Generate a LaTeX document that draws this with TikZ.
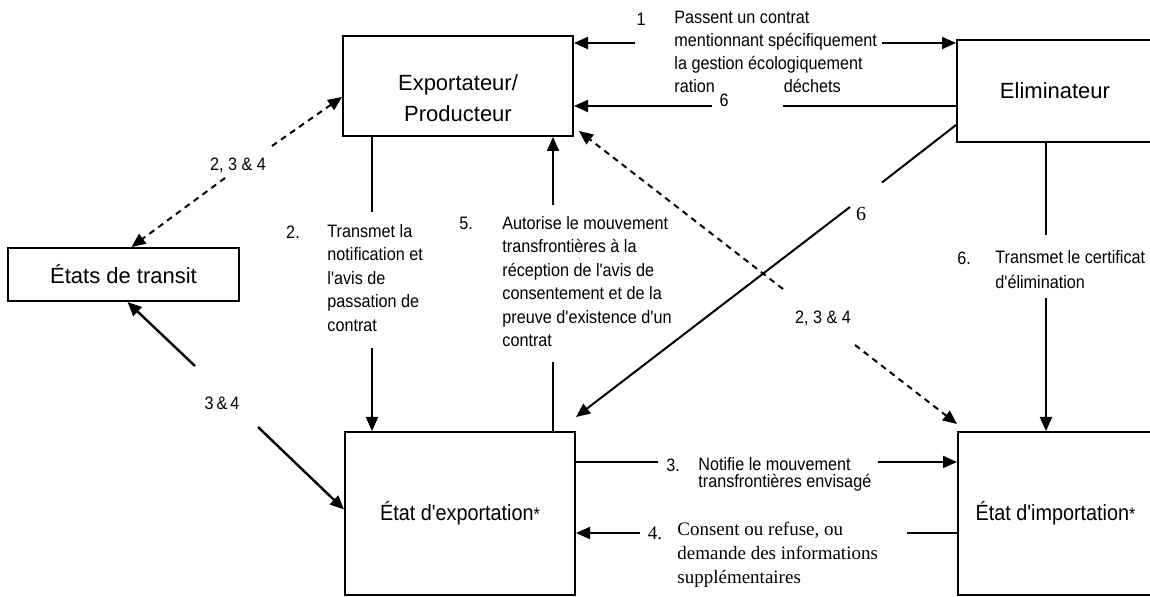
\documentclass[tikz,border=0pt]{standalone}
\usepackage{fontspec}
\setmainfont{Liberation Sans}[Ligatures=TeXOff]
\newfontfamily\narrowfont{Liberation Sans}[FakeStretch=0.9,Ligatures=TeXOff]
\newfontfamily\seriffont{Liberation Serif}
\usetikzlibrary{arrows.meta,positioning}

\begin{document}
\begin{tikzpicture}[x=0.5pt,y=-0.5pt,
	box/.style={draw,line width=1pt,inner sep=0pt,font=\fontsize{11}{15.5}\selectfont},
	note/.style={inner sep=0pt,anchor=north west,align=left,font=\narrowfont\fontsize{9}{11.75}\selectfont},
	num/.style={inner sep=0pt,font=\narrowfont\fontsize{9}{11}\selectfont},
	plain/.style={line width=1pt},
	link/.style={line width=1pt,-{Triangle[length=7pt,width=6pt]}},
	dashlink/.style={line width=1pt,dash pattern=on 3pt off 2.5pt,-{Triangle[length=7pt,width=6pt]}}]
	%% frame of the picture
	\useasboundingbox (0,0) rectangle (1150,597);
	
	%% the actors
	\node[box,minimum width=115pt,minimum height=50pt] (prod) at (458,86) {};
	\node[box,draw=none,align=center] (prodlbl) at (458,98) {Exportateur/\\Producteur};
	\node[box,minimum width=98pt,minimum height=51pt] (elim) at (1055,91) {Eliminateur};
	\node[box,minimum width=115.5pt,minimum height=26.5pt] (transit) at (123.5,274.5) {États de transit};
	\node[box,font=\narrowfont\fontsize{11}{13}\selectfont,minimum width=115pt,minimum height=81.5pt] (exp) at (460,513.5) {État d'exportation{\fontsize{9}{9}\selectfont*}};
	\node[box,font=\narrowfont\fontsize{11}{13}\selectfont,minimum width=97.5pt,minimum height=81.5pt] (imp) at (1055.5,513.5) {État d'importation{\fontsize{9}{9}\selectfont*}};
	
	%% texts
	\node[num] (n1) at (641,19) {1};
	\node[note,font=\narrowfont\fontsize{9}{11.5}\selectfont] (t1) at (674,11) {Passent un contrat\\mentionnant spécifiquement\\la gestion écologiquement\\ration\hspace{34.5pt}déchets};
	\node[num] (n6top) at (724,100) {6};
	\node[num] (l234a) at (238,165) {2, 3 \& 4};
	\node[num] (l234b) at (823,318) {2, 3 \& 4};
	\node[num] (l34) at (222,403) {3\,\&\,4};
	\node[num] (n2) at (293,232) {2.};
	\node[note] (t2) at (327,224) {Transmet la\\notification et\\l'avis de\\passation de\\contrat};
	\node[num] (n5) at (466,223) {5.};
	\node[note] (t5) at (502,216) {Autorise le mouvement\\transfrontières à la\\réception de l'avis de\\consentement et de la\\preuve d'existence d'un\\contrat};
	\node[num] (n6) at (964,258) {6.};
	\node[note,font=\narrowfont\fontsize{9}{12.5}\selectfont] (t6) at (995,250) {Transmet le certificat\\d'élimination};
	\node[num] (n3) at (673,465) {3.};
	\node[note,font=\narrowfont\fontsize{9}{8.5}\selectfont] (t3) at (698,457) {Notifie le mouvement\\transfrontières envisagé};
	\node[num,font=\seriffont\fontsize{9.5}{12}\selectfont] (n4) at (655,533) {4.};
	\node[note,font=\seriffont\fontsize{9.5}{12}\selectfont] (t4) at (677,522) {Consent ou refuse, ou\\demande des informations\\supplémentaires};
	\node[font=\seriffont\fontsize{10}{12}\selectfont,inner sep=0pt] (n6diag) at (861,214) {6};
	
	%% ends of the broken lines
	\coordinate (g1a) at (635,43);
	\coordinate (g1b) at (882,43);
	\coordinate (g6a) at (783,106);
	\coordinate (g6b) at (712,106);
	\coordinate (gla) at (272,146);
	\coordinate (glb) at (225,178);
	\coordinate (gra) at (783,289);
	\coordinate (grb) at (855,345);
	\coordinate (gda) at (882,182.5);
	\coordinate (gdb) at (850,207);
	\coordinate (gta) at (195,366);
	\coordinate (gtb) at (258,427);
	
	% 1 : contract
	\draw[link] (g1a) -- (prod.east |- g1a);
	\draw[link] (g1b) -- (elim.west |- g1b);
	% 6 : back to the exporter
	\draw[plain] (elim.west |- g6a) -- (g6a);
	\draw[link] (g6b) -- (prod.east |- g6b);
	% 2, 3 & 4 towards transit and import
	\draw[dashlink] (gla) -- ([yshift=-5.5pt]prod.west);
	\draw[dashlink] (glb) -- ([xshift=4pt]transit.north);
	\draw[dashlink] (gra) -- ([shift={(5,-6)}]prod.south east);
	\draw[dashlink] (grb) -- ([yshift=3.5pt]imp.north west);
	% 3 & 4
	\draw[link,line width=1.2pt] (gta) -- ([xshift=2pt]transit.south);
	\draw[link,line width=1.2pt] (gtb) -- ([yshift=2pt]exp.west);
	% 2 and 5
	\draw[plain] (prod.south -| 372,0) -- (372,212);
	\draw[link] (372,348) -- (exp.north -| 372,0);
	\draw[plain] (exp.north -| 553,0) -- (553,362);
	\draw[link] (553,205) -- (prod.south -| 553,0);
	% 6 : certificate
	\draw[plain] (elim.west |- 0,125) -- (gda);
	\draw[link] (gdb) -- ([yshift=7pt]exp.north east);
	\draw[plain] (elim.south -| 1046,0) -- (1046,235);
	\draw[link] (1046,298) -- (imp.north -| 1046,0);
	% 3 and 4 between the states
	\draw[plain] (exp.east |- 0,462) -- (658,462);
	\draw[link] (878,462) -- (imp.west |- 0,462);
	\draw[plain] (imp.west |- 0,533) -- (907,533);
	\draw[link] (640,533) -- (exp.east |- 0,533);
\end{tikzpicture}
\end{document}
